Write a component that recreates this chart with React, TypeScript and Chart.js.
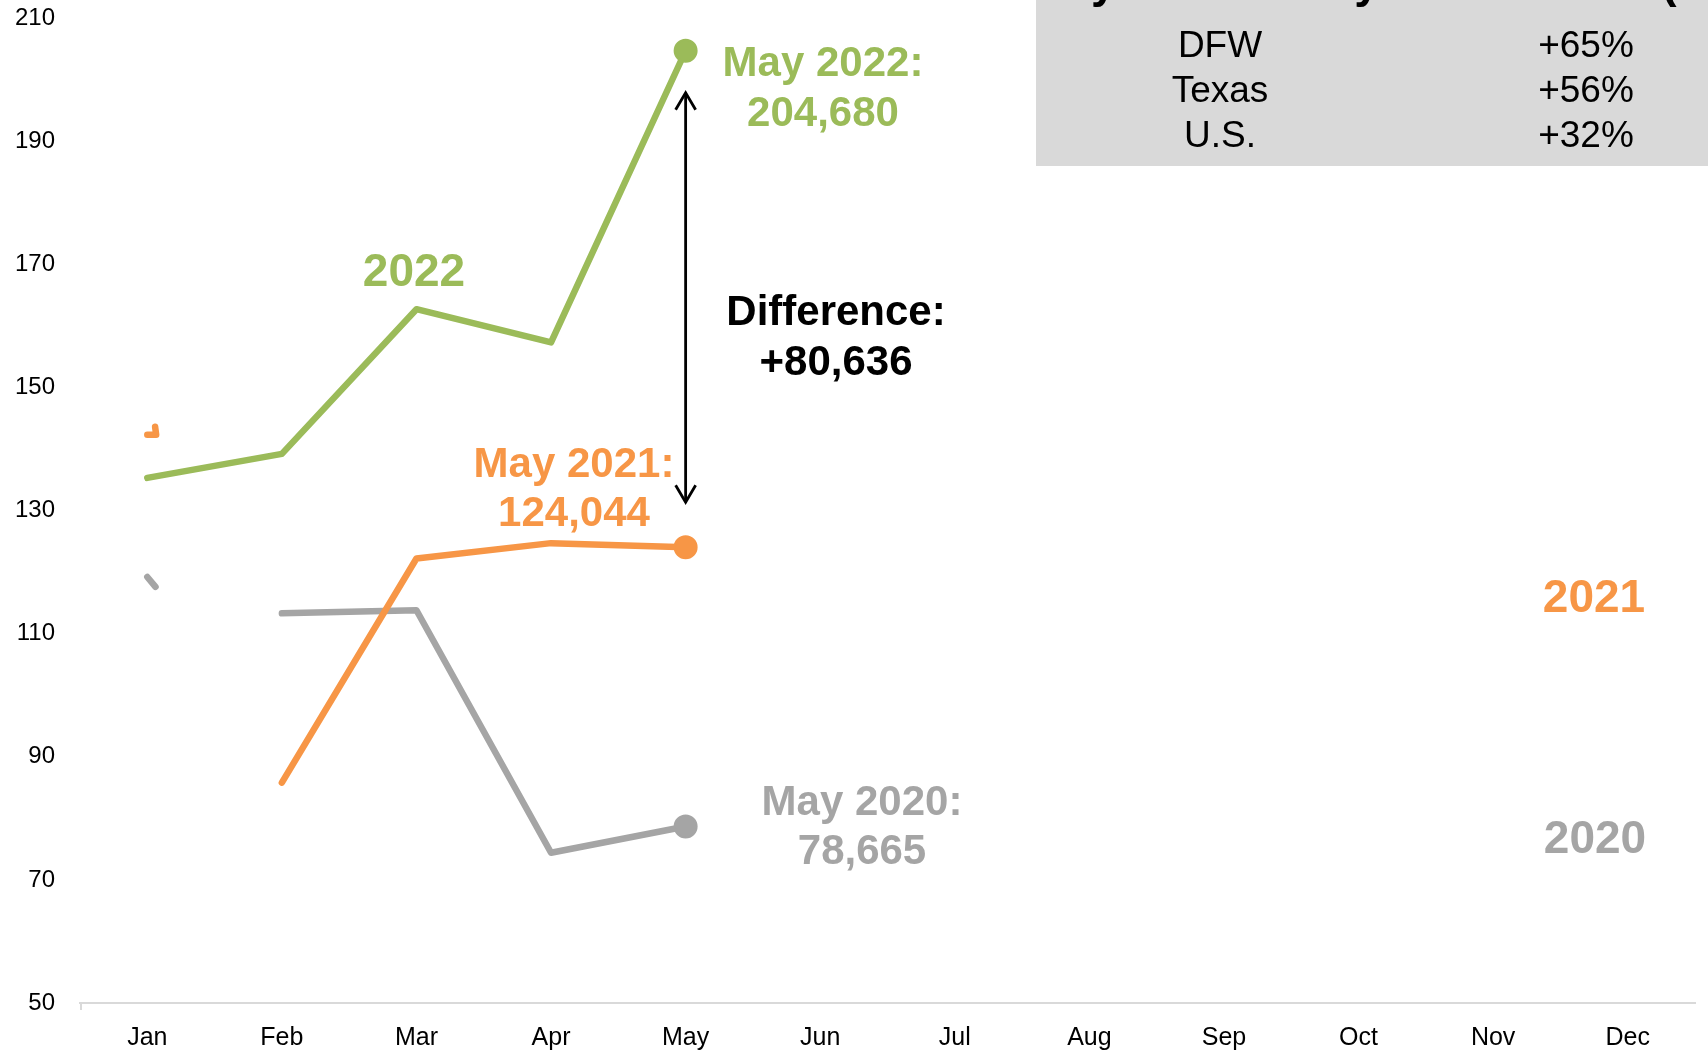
import { useEffect, useRef } from 'react';
import { Chart, registerables } from 'chart.js';

Chart.register(...registerables);

// Monthly permits, thousands
const MONTHS = ['Jan', 'Feb', 'Mar', 'Apr', 'May', 'Jun', 'Jul', 'Aug', 'Sep', 'Oct', 'Nov', 'Dec'];
const SERIES_2022 = [135.3, 139.2, 162.7, 157.3, 204.68];
const SERIES_2021 = [142.3, 85.8, 122.2, 124.7, 124.044];
const SERIES_2020 = [119.2, 113.3, 113.8, 74.4, 78.665];

// Short leftover strokes at January (category offset, value)
const STUB_2021: [number, number][] = [[0, 142.3], [0.066, 142.3], [0.058, 143.6]];
const STUB_2020: [number, number][] = [[0, 119.2], [0.061, 117.6]];

const Y_MIN = 50;
const Y_MAX = 210;
const Y_STEP = 20;

const TABLE_TITLE = 'May Year-over-year Increase (%)';
const TABLE_REGIONS = ['DFW', 'Texas', 'U.S.'];
const TABLE_GROWTH = ['+65%', '+56%', '+32%'];

const GREEN = '#9BBB59';
const ORANGE = '#F79646';
const GRAY = '#A5A5A5';
const AXIS = '#D9D9D9';
const FONT = '"Liberation Sans", Arial, Helvetica, sans-serif';
const MAY = 4;
const LINE_W = 6.5;

const fmt = (v: number) => Math.round(v * 1000).toLocaleString('en-US');

const overlay = {
  id: 'overlay',
  beforeDatasetsDraw(chart: any) {
    // small tick at the start of the category axis
    const { ctx, chartArea } = chart;
    ctx.save();
    ctx.strokeStyle = AXIS;
    ctx.lineWidth = 2;
    ctx.beginPath();
    ctx.moveTo(chartArea.left + 1, chartArea.bottom);
    ctx.lineTo(chartArea.left + 1, chartArea.bottom + 7);
    ctx.stroke();
    ctx.restore();
  },
  afterDatasetsDraw(chart: any) {
    const { ctx } = chart;
    const xs = chart.scales.x;
    const ys = chart.scales.y;
    const step = xs.getPixelForValue(1) - xs.getPixelForValue(0);
    const px = (i: number) => xs.getPixelForValue(0) + i * step;

    ctx.save();
    ctx.lineCap = 'round';
    ctx.lineJoin = 'round';
    ctx.lineWidth = LINE_W;
    const stub = (pts: [number, number][], color: string) => {
      ctx.strokeStyle = color;
      ctx.beginPath();
      pts.forEach(([i, v], k) => {
        const x = px(i);
        const y = ys.getPixelForValue(v);
        if (k === 0) ctx.moveTo(x, y);
        else ctx.lineTo(x, y);
      });
      ctx.stroke();
    };
    stub(STUB_2021, ORANGE);
    stub(STUB_2020, GRAY);

    // Double-headed arrow between the May 2022 and May 2021 points
    const mx = xs.getPixelForValue(MAY);
    const top = ys.getPixelForValue(SERIES_2022[MAY]) + 42;
    const bot = ys.getPixelForValue(SERIES_2021[MAY]) - 45;
    ctx.strokeStyle = '#000';
    ctx.lineWidth = 2.8;
    ctx.lineCap = 'butt';
    ctx.lineJoin = 'miter';
    ctx.beginPath();
    ctx.moveTo(mx, top + 1);
    ctx.lineTo(mx, bot - 1);
    ctx.stroke();
    ctx.beginPath();
    ctx.moveTo(mx - 10, top + 17);
    ctx.lineTo(mx, top);
    ctx.lineTo(mx + 10, top + 17);
    ctx.moveTo(mx - 10, bot - 17);
    ctx.lineTo(mx, bot);
    ctx.lineTo(mx + 10, bot - 17);
    ctx.stroke();

    // Text annotations, centred on cap height
    const text = (s: string, x: number, cy: number, size: number, color: string, weight = 'bold') => {
      ctx.font = `${weight} ${size}px ${FONT}`;
      ctx.fillStyle = color;
      ctx.textAlign = 'center';
      ctx.textBaseline = 'alphabetic';
      ctx.fillText(s, x, cy + size * 0.358);
    };
    const diff = SERIES_2022[MAY] - SERIES_2021[MAY];
    text('2022', 414, 270, 46, GREEN);
    text('May 2022:', 823, 61, 42, GREEN);
    text(fmt(SERIES_2022[MAY]), 823, 111, 42, GREEN);
    text('Difference:', 836, 310, 42, '#000');
    text('+' + fmt(diff), 836, 360, 42, '#000');
    text('May 2021:', 574, 462, 42, ORANGE);
    text(fmt(SERIES_2021[MAY]), 574, 511, 42, ORANGE);
    text('May 2020:', 862, 800, 42, GRAY);
    text(fmt(SERIES_2020[MAY]), 862, 849, 42, GRAY);
    text('2021', 1594, 596, 46, ORANGE);
    text('2020', 1595, 837, 46, GRAY);
    ctx.restore();
  },
  afterDraw(chart: any) {
    const { ctx } = chart;
    ctx.save();
    ctx.fillStyle = AXIS;
    ctx.fillRect(1036, 0, 1708 - 1036, 166);

    ctx.fillStyle = '#000';
    ctx.font = `bold 46px ${FONT}`;
    ctx.textAlign = 'left';
    ctx.textBaseline = 'alphabetic';
    ctx.fillText(TABLE_TITLE, 1027, -3);

    ctx.font = `37px ${FONT}`;
    ctx.textAlign = 'center';
    const rows = [44, 89, 134];
    TABLE_REGIONS.forEach((r, i) => {
      ctx.fillText(r, 1220, rows[i] + 37 * 0.358);
      ctx.fillText(TABLE_GROWTH[i], 1586, rows[i] + 37 * 0.358);
    });
    ctx.restore();
  },
};

const hideFirst = (c: any) => (c.p0DataIndex === 0 ? 'rgba(0,0,0,0)' : undefined);
const mayOnly = (c: any) => (c.dataIndex === MAY ? 11 : 0);

const lineStyle = (color: string) => ({
  borderColor: color,
  backgroundColor: color,
  borderWidth: LINE_W,
  pointRadius: mayOnly,
  pointBorderWidth: 2,
  pointHoverRadius: mayOnly,
  borderCapStyle: 'round',
  borderJoinStyle: 'round',
});

export default function App() {
  const ref = useRef<HTMLCanvasElement>(null);

  useEffect(() => {
    if (!ref.current) return;
    const chart = new Chart(ref.current, {
      type: 'line',
      data: {
        labels: MONTHS,
        datasets: [
          { label: '2022', data: SERIES_2022, ...lineStyle(GREEN) },
          { label: '2021', data: SERIES_2021, ...lineStyle(ORANGE), segment: { borderColor: hideFirst } },
          { label: '2020', data: SERIES_2020, ...lineStyle(GRAY), segment: { borderColor: hideFirst } },
        ],
      },
      options: {
        responsive: false,
        animation: false,
        events: [],
        layout: { autoPadding: false, padding: { top: 18, right: 13, left: 0, bottom: 0 } },
        plugins: {
          legend: { display: false },
          tooltip: { enabled: false },
        },
        scales: {
          x: {
            offset: true,
            grid: { display: false },
            border: { display: true, color: AXIS, width: 2 },
            ticks: { color: '#000', font: { family: FONT, size: 25 }, padding: 12, maxRotation: 0 },
            afterFit: (s: any) => {
              s.height = 47;
              s.paddingLeft = 0;
              s.paddingRight = 0;
            },
          },
          y: {
            min: Y_MIN,
            max: Y_MAX,
            grid: { display: false },
            border: { display: false },
            ticks: { stepSize: Y_STEP, color: '#000', font: { family: FONT, size: 24 }, padding: 17 },
            afterFit: (s: any) => {
              s.width = 80;
              s.paddingTop = 0;
              s.paddingBottom = 0;
            },
          },
        },
      },
      plugins: [overlay],
    } as any);
    return () => chart.destroy();
  }, []);

  return (
    <div style={{ position: 'absolute', left: 0, top: 0, width: 1708, height: 1050, background: '#fff' }}>
      <canvas ref={ref} width={1708} height={1050} style={{ display: 'block' }} />
    </div>
  );
}
